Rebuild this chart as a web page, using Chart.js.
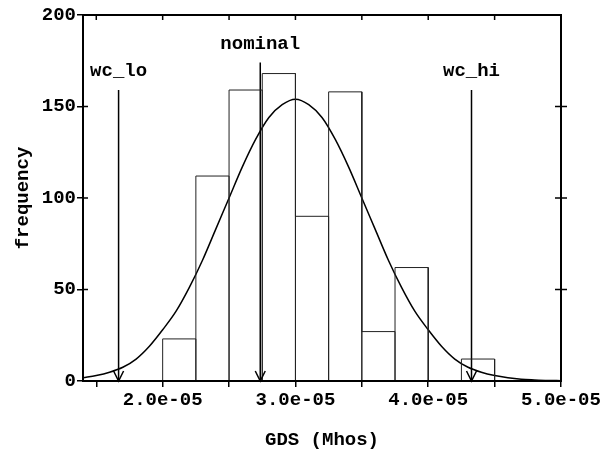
<!DOCTYPE html>
<html>
<head>
<meta charset="utf-8">
<script src="https://cdn.jsdelivr.net/npm/chart.js@4"></script>
<style>
  html, body { margin: 0; padding: 0; background: #fff; }
  canvas { display: block; }
</style>
</head>
<body>
<canvas id="gdsChart" width="604" height="453"></canvas>
<script>
// histogram bins (GDS, Mhos) and counts
const binLo = [2.0e-5, 2.25e-5, 2.5e-5, 2.75e-5, 3.0e-5, 3.25e-5, 3.5e-5, 3.75e-5, 4.25e-5];
const binHi = [2.25e-5, 2.5e-5, 2.75e-5, 3.0e-5, 3.25e-5, 3.5e-5, 3.75e-5, 4.0e-5, 4.5e-5];
const counts = [23, 112, 159, 168, 90, 158, 27, 62, 12];

// fitted normal curve
const fitX = [1.4e-5, 1.5e-5, 1.6e-5, 1.7e-5, 1.8e-5, 1.9e-5, 2.0e-5, 2.1e-5, 2.2e-5, 2.3e-5,
              2.4e-5, 2.5e-5, 2.6e-5, 2.7e-5, 2.8e-5, 2.9e-5, 3.0e-5, 3.1e-5, 3.2e-5, 3.3e-5,
              3.4e-5, 3.5e-5, 3.6e-5, 3.7e-5, 3.8e-5, 3.9e-5, 4.0e-5, 4.1e-5, 4.2e-5, 4.3e-5,
              4.4e-5, 4.5e-5, 4.6e-5, 4.7e-5, 4.8e-5, 4.9e-5, 5.0e-5];
const fitY = [1.8, 3.0, 4.8, 7.5, 12, 19, 28, 38, 51, 66,
              83, 100, 117, 132, 144, 151, 154, 151, 144, 132,
              117, 100, 83, 66, 51, 38, 28, 19, 12, 7.5,
              4.8, 3.0, 1.8, 1.0, 0.6, 0.3, 0.2];

// marker lines
const markerNames = ['wc_lo', 'nominal', 'wc_hi'];
const markerX = [1.668e-5, 2.735e-5, 4.326e-5];
const markerTop = [159, 174, 159];

// axis ticks
const xTickValues = [1.5e-5, 2.0e-5, 2.5e-5, 3.0e-5, 3.5e-5, 4.0e-5, 4.5e-5, 5.0e-5];
const xTickLabels = ['', '2.0e-05', '', '3.0e-05', '', '4.0e-05', '', '5.0e-05'];
const yTickValues = [0, 50, 100, 150, 200];
const yRightTicks = [50, 100, 150];

const monoFont = { family: "'Liberation Mono', 'DejaVu Sans Mono', monospace", size: 19, weight: 'bold' };

// outline of every bar: up, across, down
const histPoints = [];
binLo.forEach((lo, i) => {
    histPoints.push({ x: lo, y: 0 }, { x: lo, y: counts[i] }, { x: binHi[i], y: counts[i] }, { x: binHi[i], y: 0 });
});

const markerSets = markerX.map((v, i) => ({
    type: 'line',
    data: [{ x: v, y: markerTop[i] }, { x: v, y: 0 }],
    borderColor: '#000',
    borderWidth: 1.5,
    pointRadius: 0,
    fill: false
}));

// frame, inner ticks, arrow heads and marker labels
const framePlugin = {
    id: 'frame',
    afterDraw(chart) {
        const { ctx, chartArea: a, scales: { x, y } } = chart;
        ctx.save();
        ctx.strokeStyle = '#000';
        ctx.lineWidth = 2;
        ctx.strokeRect(a.left, a.top, a.right - a.left, a.bottom - a.top);

        ctx.lineWidth = 1.5;
        ctx.beginPath();
        xTickValues.forEach(v => {
            const px = x.getPixelForValue(v);
            ctx.moveTo(px, a.top);
            ctx.lineTo(px, a.top + 5);
        });
        yTickValues.forEach(v => {
            const py = y.getPixelForValue(v);
            ctx.moveTo(a.left, py);
            ctx.lineTo(a.left + 5, py);
        });
        yRightTicks.forEach(v => {
            const py = y.getPixelForValue(v);
            ctx.moveTo(a.right - 6, py);
            ctx.lineTo(a.right + 6, py);
        });
        ctx.stroke();

        // arrow heads + labels
        ctx.font = 'bold 19px "Liberation Mono", monospace';
        ctx.fillStyle = '#000';
        ctx.textAlign = 'center';
        ctx.textBaseline = 'alphabetic';
        markerX.forEach((v, i) => {
            const px = x.getPixelForValue(v);
            const py0 = y.getPixelForValue(0);
            ctx.beginPath();
            ctx.moveTo(px - 5, py0 - 10);
            ctx.lineTo(px, py0);
            ctx.lineTo(px + 5, py0 - 10);
            ctx.stroke();
            ctx.fillText(markerNames[i], px, y.getPixelForValue(markerTop[i]) - 14);
        });
        ctx.restore();
    }
};

new Chart(document.getElementById('gdsChart').getContext('2d'), {
    type: 'line',
    data: {
        datasets: [
            {
                data: histPoints,
                borderColor: '#222',
                borderWidth: 1,
                pointRadius: 0,
                tension: 0,
                fill: false
            },
            {
                data: fitX.map((v, i) => ({ x: v, y: fitY[i] })),
                borderColor: '#000',
                borderWidth: 1.5,
                pointRadius: 0,
                cubicInterpolationMode: 'monotone',
                fill: false
            },
            ...markerSets
        ]
    },
    options: {
        responsive: false,
        animation: false,
        devicePixelRatio: 1,
        layout: { padding: { top: 15, right: 43, bottom: 0, left: 0 } },
        plugins: {
            legend: { display: false },
            tooltip: { enabled: false }
        },
        scales: {
            x: {
                type: 'linear',
                min: 1.4e-5,
                max: 5.0e-5,
                afterBuildTicks: scale => { scale.ticks = xTickValues.map(v => ({ value: v })); },
                afterFit: scale => { scale.height = 72; },
                grid: { drawOnChartArea: false, tickLength: 6, color: '#000', lineWidth: 1.5 },
                border: { color: '#000', width: 2 },
                ticks: {
                    color: '#000',
                    font: monoFont,
                    padding: 2,
                    maxRotation: 0,
                    autoSkip: false,
                    callback: (val, idx) => xTickLabels[idx]
                },
                title: { display: true, text: 'GDS (Mhos)', color: '#000', font: monoFont, padding: { top: 0, bottom: 1 } }
            },
            y: {
                min: 0,
                max: 200,
                afterBuildTicks: scale => { scale.ticks = yTickValues.map(v => ({ value: v })); },
                afterFit: scale => { scale.width = 83; },
                grid: { drawOnChartArea: false, tickLength: 6, color: '#000', lineWidth: 1.5 },
                border: { color: '#000', width: 2 },
                ticks: { color: '#000', font: monoFont, padding: 1 },
                title: { display: true, text: 'frequency', color: '#000', font: monoFont, padding: { top: 12, bottom: 0 } }
            }
        }
    },
    plugins: [framePlugin]
});
</script>
</body>
</html>
